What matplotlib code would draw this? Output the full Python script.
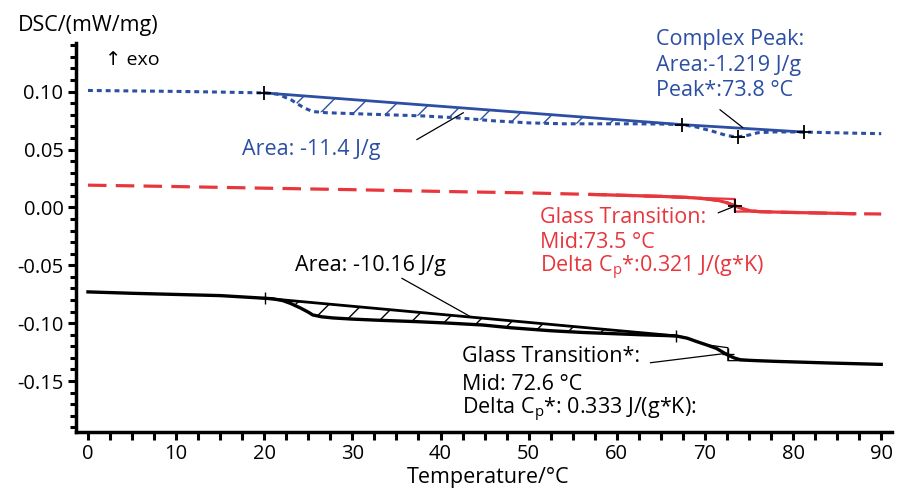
import matplotlib
matplotlib.use("Agg")
import matplotlib.pyplot as plt
from matplotlib.ticker import MultipleLocator, FormatStrFormatter

plt.rcParams["font.family"] = ["Open Sans", "DejaVu Sans"]
plt.rcParams["mathtext.fontset"] = "custom"
plt.rcParams["mathtext.rm"] = "Open Sans"
plt.rcParams["axes.unicode_minus"] = False
plt.rcParams["hatch.linewidth"] = 1.0

BLUE = "#2c4fa3"
RED = "#e8363d"
BLACK = "#000000"

# blue curve (dotted)
blue_x = [0, 5, 10, 15, 20, 21.5, 23, 24.5, 25.5, 27, 30, 34, 38, 42, 46, 50, 54, 58, 62, 65,
          67.4, 69, 70.9, 72.5, 73.7, 75, 76, 78, 81.2, 84, 87, 90]
blue_y = [0.1010, 0.1006, 0.1002, 0.0996, 0.0989, 0.0978, 0.0931, 0.0860, 0.0828, 0.0818, 0.0810,
          0.0800, 0.0790, 0.0773, 0.0748, 0.0730, 0.0722, 0.0722, 0.0722, 0.0720,
          0.0715, 0.0695, 0.0657, 0.0620, 0.0608, 0.0625, 0.0645, 0.0652, 0.0651, 0.0646, 0.0641, 0.0637]
blue_base_x = [20, 67.4, 81.2]
blue_base_y = [0.0989, 0.0715, 0.0651]
blue_marks_x = [20, 67.4, 73.7, 81.2]
blue_marks_y = [0.0989, 0.0715, 0.0608, 0.0651]

# red curve (dashed, evaluated part solid)
red_x = [0, 10, 20, 30, 40, 50, 57, 60, 65, 68, 70, 71.5, 72.5, 73.4, 74.3, 75.2, 76.2, 80, 84, 87, 90]
red_y = [0.0192, 0.0180, 0.0166, 0.0153, 0.0138, 0.0125, 0.0112, 0.0106, 0.0095, 0.0086, 0.0075,
         0.0060, 0.0040, 0.0014, -0.0012, -0.0030, -0.0037, -0.0044, -0.0050, -0.0055, -0.0057]
red_solid = (57, 87)
red_tg_x = [57, 73.4, 73.4, 76.2]
red_tg_y = [0.0112, 0.0072, -0.0036, -0.0036]
red_mark = (73.4, 0.0014)

# black curve
black_x = [0, 5, 10, 15, 20.1, 21, 22.1, 23, 24.1, 25, 25.5, 26.5, 27.8, 30, 33, 37.3, 41, 44.8,
           48, 52.4, 56, 60, 63, 66.7, 68, 69.1, 70.2, 71.3, 72.5, 73.3, 74, 75, 75.9, 78, 81, 84, 87, 90]
black_y = [-0.0730, -0.0742, -0.0752, -0.0762, -0.0785, -0.0790, -0.0805, -0.0830, -0.0869, -0.0905,
           -0.0929, -0.0945, -0.0955, -0.0965, -0.0975, -0.0987, -0.1000, -0.1016, -0.1040, -0.1065,
           -0.1080, -0.1092, -0.1101, -0.1110, -0.1130, -0.1160, -0.1188, -0.1218, -0.1272, -0.1300,
           -0.1316, -0.1321, -0.1324, -0.1330, -0.1337, -0.1344, -0.1350, -0.1356]
black_base_x = [20.1, 66.7]
black_base_y = [-0.0785, -0.1110]
black_tg_x = [70.3, 72.6, 72.6, 76.0]
black_tg_y = [-0.1188, -0.1212, -0.1324, -0.1324]
black_marks_x = [20.1, 66.7, 72.6]
black_marks_y = [-0.0785, -0.1110, -0.1268]


def interp(xs, ys, x):
    for i in range(len(xs) - 1):
        if xs[i] <= x <= xs[i + 1]:
            t = (x - xs[i]) / (xs[i + 1] - xs[i])
            return ys[i] + t * (ys[i + 1] - ys[i])
    return ys[-1]


def hatched(ax, xs, ys, bx, by, color):
    sx = [x for x in xs if bx[0] <= x <= bx[-1]]
    curve = [interp(xs, ys, x) for x in sx]
    base = [interp(bx, by, x) for x in sx]
    ax.fill_between(sx, curve, base, facecolor="none", edgecolor=color, hatch="/", linewidth=0)


fig = plt.figure(figsize=(9.1, 4.92), dpi=100)
ax = fig.add_axes([0.0835, 0.122, 0.8965, 0.7906])

# blue
hatched(ax, blue_x, blue_y, blue_base_x[:2], blue_base_y[:2], BLUE)
ax.plot(blue_x, blue_y, color=BLUE, lw=2.2, dashes=(1.6, 1.3))
ax.plot(blue_base_x, blue_base_y, color=BLUE, lw=2.0)
ax.plot(blue_marks_x, blue_marks_y, ls="none", marker="+", ms=10, mew=1.3, color=BLACK)

# red
ax.plot(red_x, red_y, color=RED, lw=2.3, dashes=(5.8, 2.9))
rs_x = [x for x in red_x if red_solid[0] <= x <= red_solid[1]]
rs_y = [y for x, y in zip(red_x, red_y) if red_solid[0] <= x <= red_solid[1]]
ax.plot(rs_x, rs_y, color=RED, lw=2.3)
ax.plot(red_tg_x, red_tg_y, color=RED, lw=1.6)
ax.plot(*red_mark, ls="none", marker="+", ms=10, mew=1.3, color=BLACK)

# black
hatched(ax, black_x, black_y, black_base_x, black_base_y, BLACK)
ax.plot(black_x, black_y, color=BLACK, lw=2.4)
ax.plot(black_base_x, black_base_y, color=BLACK, lw=2.0)
ax.plot(black_tg_x, black_tg_y, color=BLACK, lw=0.9)
ax.plot(black_marks_x, black_marks_y, ls="none", marker="+", ms=9, mew=1.0, color=BLACK)

fs = 15.5
lead = dict(arrowstyle="-", color=BLACK, lw=0.9, shrinkA=0, shrinkB=0)

ax.text(1.9, 0.1277, "\u2191 exo", fontsize=fs - 1.5, va="center", ha="left")

ax.text(17.5, 0.0498, "Area: -11.4 J/g", color=BLUE, fontsize=fs, va="center")
ax.annotate("", xy=(42.6, 0.0818), xytext=(37.3, 0.0585), arrowprops=lead)

for y, s in zip([0.145, 0.1225, 0.1009], ["Complex Peak:", "Area:-1.219 J/g", "Peak*:73.8 \u00b0C"]):
    ax.text(64.4, y, s, color=BLUE, fontsize=fs, va="center", clip_on=False)
ax.annotate("", xy=(74.3, 0.0689), xytext=(71.7, 0.0844), arrowprops=lead)

for y, s in zip([-0.0090, -0.0306, -0.0522],
                ["Glass Transition:", "Mid:73.5 \u00b0C", "Delta C$_\\mathrm{p}$*:0.321 J/(g*K)"]):
    ax.text(51.3, y, s, color=RED, fontsize=fs, va="center")
ax.annotate("", xy=(73.2, 0.0005), xytext=(71.5, -0.0047), arrowprops=lead)

ax.text(23.5, -0.0505, "Area: -10.16 J/g", color=BLACK, fontsize=fs, va="center")
ax.annotate("", xy=(43.4, -0.0944), xytext=(35.6, -0.0612), arrowprops=lead)

for y, s in zip([-0.1292, -0.1526, -0.1751],
                ["Glass Transition*:", "Mid: 72.6 \u00b0C", "Delta C$_\\mathrm{p}$*: 0.333 J/(g*K):"]):
    ax.text(42.45, y, s, color=BLACK, fontsize=fs, va="center")
ax.annotate("", xy=(72.5, -0.1260), xytext=(63.8, -0.1342), arrowprops=lead)

ax.set_xlim(-1.36, 91.2)
ax.set_ylim(-0.194, 0.142)
ax.xaxis.set_major_locator(MultipleLocator(10))
ax.xaxis.set_minor_locator(MultipleLocator(2.5))
ax.yaxis.set_major_locator(MultipleLocator(0.05))
ax.yaxis.set_minor_locator(MultipleLocator(0.01))
ax.yaxis.set_major_formatter(FormatStrFormatter("%.2f"))
for side in ["top", "right"]:
    ax.spines[side].set_visible(False)
for side in ["left", "bottom"]:
    ax.spines[side].set_linewidth(2.5)
ax.tick_params(which="major", length=6, width=2.2, labelsize=14.5, pad=3)
ax.tick_params(axis="x", which="minor", length=6, width=2.2)
ax.tick_params(axis="y", which="minor", length=4, width=2.2)

fig.text(18 / 910, 1 - 25 / 492, "DSC/(mW/mg)", fontsize=fs, va="center", ha="left")
fig.text(488 / 910, 1 - 478 / 492, "Temperature/\u00b0C", fontsize=fs, va="center", ha="center")

fig.savefig("out.png", dpi=100)
